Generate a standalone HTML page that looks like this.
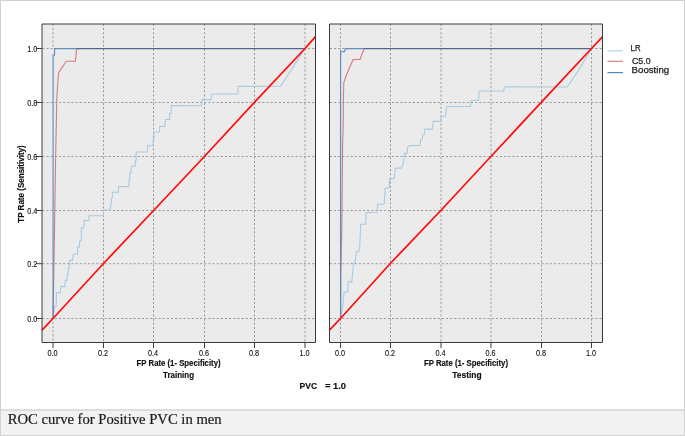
<!DOCTYPE html>
<html><head><meta charset="utf-8">
<style>
html,body{margin:0;padding:0;background:#fff;}
body{width:685px;height:436px;overflow:hidden;position:relative;}
svg{position:absolute;left:0;top:0;display:block;will-change:transform;}
.t{font-family:"Liberation Sans",sans-serif;}
.s{font-family:"Liberation Serif",serif;}
</style></head><body>
<svg width="685" height="436" viewBox="0 0 685 436">
<rect x="0.5" y="0.5" width="684" height="435" fill="#fff" stroke="#d2d2d2" stroke-width="1"/>
<rect x="1" y="411" width="683" height="24" fill="#f2f2f2"/>
<rect x="1" y="409" width="683" height="2" fill="#dedede"/>
<text class="s" x="7.7" y="423.6" font-size="14.65" fill="#1a1a1a" stroke="#1a1a1a" stroke-width="0.2">ROC curve for Positive PVC in men</text>
<rect x="42" y="24" width="273.5" height="318.5" fill="#ebebeb"/>
<g stroke="#999999" stroke-width="1" stroke-dasharray="2.1 2.05" stroke-dashoffset="0.15" fill="none">
  <path d="M53.0 24V48M53.0 322V342M103.5 24V342M153.5 24V342M204.5 24V342M254.5 24V342M305.0 24V342"/>
  <path d="M42.5 318.5H315.0M42.5 263.7H315.0M42.5 210.5H315.0M42.5 156.5H315.0M42.5 102.5H315.0M42.5 48.5H315.0"/>
</g>

<rect x="329.5" y="24" width="273.0" height="318.5" fill="#ebebeb"/>
<g stroke="#999999" stroke-width="1" stroke-dasharray="2.1 2.05" stroke-dashoffset="0.15" fill="none">
  <path d="M340.5 24V342M390.5 24V342M441.0 24V342M491.0 24V342M541.5 24V342M591.5 24V342"/>
  <path d="M330.0 318.5H602.0M330.0 263.7H602.0M330.0 210.5H602.0M330.0 156.5H602.0M330.0 102.5H602.0M330.0 48.5H602.0"/>
</g>

<g fill="none" stroke-linejoin="miter">
  <path stroke="#a9cbe0" stroke-width="1.1" d="M53.2,318.3 L54.8,306.3 L56.2,306.3 L56.4,292.6 L60.5,292.6 L60.7,286.6 L65,286.6 L65.2,280.5 L66.9,280.5 L67.2,274.4 L68.1,274.4 L68.3,268 L69.2,267.8 L69.6,260.4 L72.4,260.4 L73.3,254.3 L77.5,254.3 L77.6,247.3 L79.3,247.2 L79.8,240.8 L81.3,240.5 L81.4,227.9 L83.7,227.9 L84.2,220.6 L88.8,220.5 L88.9,215.8 L103.4,215.8 L103.4,210 L110.4,209.8 L110.6,205 L111.2,205 L111.4,198 L112.4,198 L112.4,192.2 L118.3,192.2 L118.6,186.6 L128.7,186.6 L129,179.5 L129.8,179.5 L129.9,172.6 L131.2,172.6 L131.3,166.1 L135.1,166.1 L135.5,160.4 L136.2,160.4 L136.2,152 L147.3,152 L147.7,145.6 L153,145.7 L153.2,139 L154,139 L154,132 L159.4,132 L159.7,126.4 L164.9,126.4 L165.5,119.5 L169.5,119.5 L169.7,113.5 L171.2,113.5 L171.2,105.6 L201.6,105.7 L202,99.6 L211.2,99.6 L211.4,94 L237.8,94 L238,86.4 L280.6,86.3 L293.6,66.4 L304.8,48.5"/>
  <path stroke="#d77a80" stroke-width="1.1" d="M53,318.5 L54.2,250 L55.4,170 L56.8,97.5 L58.5,73 L66.3,61.3 L75.3,61.3 L76.7,48.5"/>
  <path stroke="#4d87b8" stroke-width="1.25" stroke-opacity="0.85" d="M53.1,318.5 L53.1,55 L54.5,55 L54.6,48.5 L76.7,48.5"/>
  <path stroke="#4c5b8a" stroke-width="1.25" stroke-opacity="0.9" d="M76.7,48.5 L305,48.5"/>
  <path stroke="#ff0f0f" stroke-width="1.8" d="M42,330.2 L53,318.5 L103.5,263.5 L153.6,210.5 L204.4,156.5 L254.4,102.4 L305,48.5 L315.5,36.6"/>
</g>

<g fill="none" stroke-linejoin="miter">
  <path stroke="#a9cbe0" stroke-width="1.1" d="M340.6,317.8 L342.1,309.4 L343,304.6 L343.3,299.9 L344.1,292.1 L347.7,292.1 L348.1,281.9 L351.9,281.9 L352.4,275 L353.6,262.8 L355.1,262.6 L356.5,251.6 L358.7,251.3 L359.7,247.9 L360.5,230 L360.6,224.2 L365.6,224.2 L366.1,212.6 L377.2,212.3 L377.6,204.3 L384.2,204.3 L385.1,188.2 L389.2,187.9 L389.6,178.6 L394.5,178.4 L395.1,168.1 L401.4,168.1 L402.7,165.4 L403.9,159 L404.6,153.4 L407.1,153.4 L407.5,147.7 L409.6,145.6 L420.1,145.4 L420.6,139.5 L422.2,139.1 L422.9,134.8 L424.4,134.3 L424.8,129.1 L432.4,129.1 L433.2,121.4 L440.6,121.4 L441.2,116.5 L445.4,116.2 L446.6,106.5 L470.4,106.5 L471.2,100.5 L478.4,100.5 L479.2,91 L503.7,91 L504.5,86.9 L567.2,87 L579.8,68.4 L591.5,48.5"/>
  <path stroke="#d77a80" stroke-width="1.1" d="M340.6,318.5 L340.7,275 L341.8,230 L342.3,180 L342.6,145 L343.2,125 L343.4,98 L343.8,82.5 L346.4,75 L353.1,59.5 L360,59.5 L364.1,48.5"/>
  <path stroke="#4d87b8" stroke-width="1.25" stroke-opacity="0.85" d="M340.6,318.5 L340.6,51.5 L344.4,51.5 L345.4,48.5 L364.1,48.5"/>
  <path stroke="#4c5b8a" stroke-width="1.25" stroke-opacity="0.9" d="M364.1,48.5 L591.5,48.5"/>
  <path stroke="#ff0f0f" stroke-width="1.8" d="M329.5,330.2 L340.5,318.5 L390.3,263.5 L440.8,210.5 L490.9,156.5 L541.2,102.4 L591.5,48.5 L602.5,36.8"/>
</g>

<g stroke="#3a3a3a" stroke-width="1" fill="none">
  <path d="M42 24H315.5V342.5H42Z"/>
  <path d="M329.5 24H602.5V342.5H329.5Z"/>
</g>
<g stroke="#3a3a3a" stroke-width="1" fill="none">
  <path d="M36 318.5H42M36 263.7H42M36 210.5H42M36 156.5H42M36 102.5H42M36 48.5H42"/>
  <path d="M53.0 342.5V348M103.5 342.5V348M153.5 342.5V348M204.5 342.5V348M254.5 342.5V348M305.0 342.5V348M340.5 342.5V348M390.5 342.5V348M441.0 342.5V348M491.0 342.5V348M541.5 342.5V348M591.5 342.5V348"/>
</g>
<g class="t" font-size="8.8" fill="#111" stroke="#111" stroke-width="0.12" text-anchor="end">
  <text transform="translate(37.3,321.7) scale(0.82,1)">0.0</text>
  <text transform="translate(37.3,266.9) scale(0.82,1)">0.2</text>
  <text transform="translate(37.3,213.7) scale(0.82,1)">0.4</text>
  <text transform="translate(37.3,159.7) scale(0.82,1)">0.6</text>
  <text transform="translate(37.3,105.7) scale(0.82,1)">0.8</text>
  <text transform="translate(37.3,51.7) scale(0.82,1)">1.0</text>
</g>
<g class="t" font-size="8.8" fill="#111" stroke="#111" stroke-width="0.12" text-anchor="middle">
  <text transform="translate(52.55,355.6) scale(0.79,1)" font-size="9.2">0.0</text>
  <text transform="translate(103.05,355.6) scale(0.79,1)" font-size="9.2">0.2</text>
  <text transform="translate(153.05,355.6) scale(0.79,1)" font-size="9.2">0.4</text>
  <text transform="translate(204.05,355.6) scale(0.79,1)" font-size="9.2">0.6</text>
  <text transform="translate(254.05,355.6) scale(0.79,1)" font-size="9.2">0.8</text>
  <text transform="translate(304.55,355.6) scale(0.79,1)" font-size="9.2">1.0</text>
  <text transform="translate(340.05,355.6) scale(0.79,1)" font-size="9.2">0.0</text>
  <text transform="translate(390.05,355.6) scale(0.79,1)" font-size="9.2">0.2</text>
  <text transform="translate(440.55,355.6) scale(0.79,1)" font-size="9.2">0.4</text>
  <text transform="translate(490.55,355.6) scale(0.79,1)" font-size="9.2">0.6</text>
  <text transform="translate(541.05,355.6) scale(0.79,1)" font-size="9.2">0.8</text>
  <text transform="translate(591.05,355.6) scale(0.79,1)" font-size="9.2">1.0</text>
</g>
<g class="t" font-weight="bold" fill="#111" stroke="#111" stroke-width="0.15" text-anchor="middle">
  <text x="178.6" y="366.2" font-size="8.2" textLength="84" lengthAdjust="spacingAndGlyphs">FP Rate (1- Specificity)</text>
  <text x="178.5" y="377.9" font-size="8.8" textLength="31" lengthAdjust="spacingAndGlyphs">Training</text>
  <text x="466" y="366.2" font-size="8.2" textLength="84" lengthAdjust="spacingAndGlyphs">FP Rate (1- Specificity)</text>
  <text x="467" y="377.9" font-size="8.8" textLength="29.3" lengthAdjust="spacingAndGlyphs">Testing</text>
  <text transform="translate(23.8,184) rotate(-90)" x="0" y="0" font-size="8.2" textLength="77.5" lengthAdjust="spacingAndGlyphs">TP Rate (Sensitivity)</text>
</g>
<text class="t" x="299.6" y="388.8" font-size="8.6" font-weight="bold" fill="#111" stroke="#111" stroke-width="0.15" textLength="17.6" lengthAdjust="spacingAndGlyphs">PVC</text>
<text class="t" x="325" y="388.8" font-size="8.6" font-weight="bold" fill="#111" stroke="#111" stroke-width="0.15" textLength="21" lengthAdjust="spacingAndGlyphs">= 1.0</text>
<g stroke-width="1.2">
  <line x1="607.5" y1="50.8" x2="623" y2="50.8" stroke="#b6d4e4"/>
  <line x1="607.5" y1="61.3" x2="623" y2="61.3" stroke="#d97f85"/>
  <line x1="607.5" y1="72.6" x2="623" y2="72.6" stroke="#5289b8"/>
</g>
<g class="t" font-size="9.5" fill="#1a1a1a" stroke="#1a1a1a" stroke-width="0.25">
  <text x="630.6" y="50.8" textLength="10" lengthAdjust="spacingAndGlyphs">LR</text>
  <text x="632" y="63.9" textLength="18.6" lengthAdjust="spacingAndGlyphs">C5.0</text>
  <text x="631.6" y="72.7" textLength="37.6" lengthAdjust="spacingAndGlyphs">Boosting</text>
</g>
</svg>
</body></html>
